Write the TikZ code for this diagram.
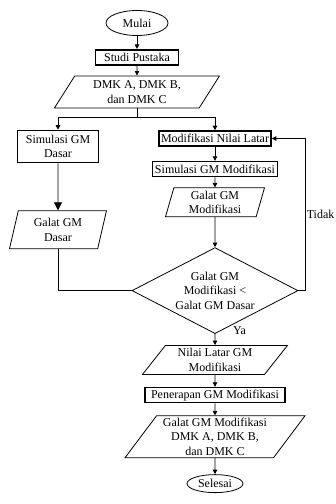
\documentclass[tikz,border=0pt]{standalone}
\usepackage{fontspec}
\setmainfont{Liberation Serif}
\usetikzlibrary{arrows.meta, positioning, shapes.geometric}

\begin{document}
\begin{tikzpicture}[
        x=1pt, y=-1pt,
        node distance=12pt,
        every node/.style={font=\fontsize{12pt}{14.5pt}\selectfont},
        terminal/.style={ellipse, draw=black, line width=0.8pt, inner sep=0pt, align=center},
        proc/.style={rectangle, draw=black, line width=1.6pt, inner xsep=2pt, inner ysep=0pt, minimum height=15pt, align=center},
        io/.style={trapezium, trapezium stretches body, draw=black, line width=0.8pt, inner sep=0pt, align=center},
        decision/.style={diamond, shape aspect=1.95, draw=black, line width=0.8pt, inner sep=0pt, minimum width=166pt, minimum height=86pt, align=center},
        line/.style={draw=black, line width=0.8pt},
        arrow/.style={line, -{Triangle[length=4.5pt, width=4.5pt]}},
        bigarrow/.style={line, -{Triangle[length=8pt, width=8pt]}},
        lbl/.style={inner sep=1pt},
    ]
        \useasboundingbox (0,0) rectangle (336,504);

        % Main column
        \node[terminal, minimum width=62pt, minimum height=25pt] (mulai) at (137,23) {Mulai};
        \node[proc, minimum width=83pt, below=13pt of mulai] (studi) {Studi Pustaka};
        \node[io, trapezium left angle=48, trapezium right angle=132, minimum width=165pt, minimum height=32pt, below=10pt of studi] (dmk) {DMK A, DMK B,\\dan DMK C};

        % Left branch
        \node[proc, minimum width=81pt, minimum height=32pt] (simdasar) at (58,146.5) {Simulasi GM\\Dasar};
        \node[io, trapezium left angle=69, trapezium right angle=111, minimum width=97pt, minimum height=38pt, below=47pt of simdasar] (galatdasar) {Galat GM\\Dasar};

        % Right branch
        \node[proc, minimum width=112pt] (modif) at (215,138.5) {Modifikasi Nilai Latar};
        \node[proc, minimum width=125pt, below=14pt of modif] (simmod) {Simulasi GM Modifikasi};
        \node[io, trapezium left angle=70, trapezium right angle=110, minimum width=99pt, minimum height=29pt, below=10pt of simmod] (galatmod) {Galat GM\\Modifikasi};
        \node[decision, below=30pt of galatmod] (cek) {Galat GM\\Modifikasi <\\Galat GM Dasar};
        \node[io, trapezium left angle=45, trapezium right angle=135, minimum width=145pt, minimum height=29pt, below=11pt of cek] (nilai) {Nilai Latar GM\\Modifikasi};
        \node[proc, minimum width=140pt, below=12pt of nilai] (penerapan) {Penerapan GM Modifikasi};
        \node[io, trapezium left angle=50, trapezium right angle=130, minimum width=180pt, minimum height=42pt, below=12pt of penerapan] (galatdmk) {Galat GM Modifikasi\\DMK A, DMK B,\\dan DMK C};
        \node[terminal, minimum width=56pt, minimum height=18pt, below=16pt of galatdmk] (selesai) {Selesai};

        % Labels
        \node[lbl, anchor=west] (ya) at ([xshift=17pt, yshift=3pt]cek.south) {Ya};

        % Arrows
        \draw[arrow] (mulai) -- (studi);
        \draw[arrow] (studi) -- (dmk);
        \draw[line] (dmk.south) -- ++(0,9) coordinate (split);
        \draw[arrow] (split) -| (simdasar.north);
        \draw[arrow] (split) -| (modif.north);
        \draw[arrow] (modif) -- (simmod);
        \draw[arrow] (simmod) -- (galatmod);
        \draw[arrow] (galatmod) -- (cek);
        \draw[bigarrow] (simdasar) -- (galatdasar);
        \draw[line] (galatdasar.south) |- (cek.west);
        \draw[arrow] (cek.east) -- ++(7,0) |- (modif.east) node[lbl, pos=0.25, right] {Tidak};
        \draw[arrow] (cek) -- (nilai);
        \draw[arrow] (nilai) -- (penerapan);
        \draw[arrow] (penerapan) -- (galatdmk);
        \draw[arrow] (galatdmk) -- (selesai);
    \end{tikzpicture}
\end{document}
